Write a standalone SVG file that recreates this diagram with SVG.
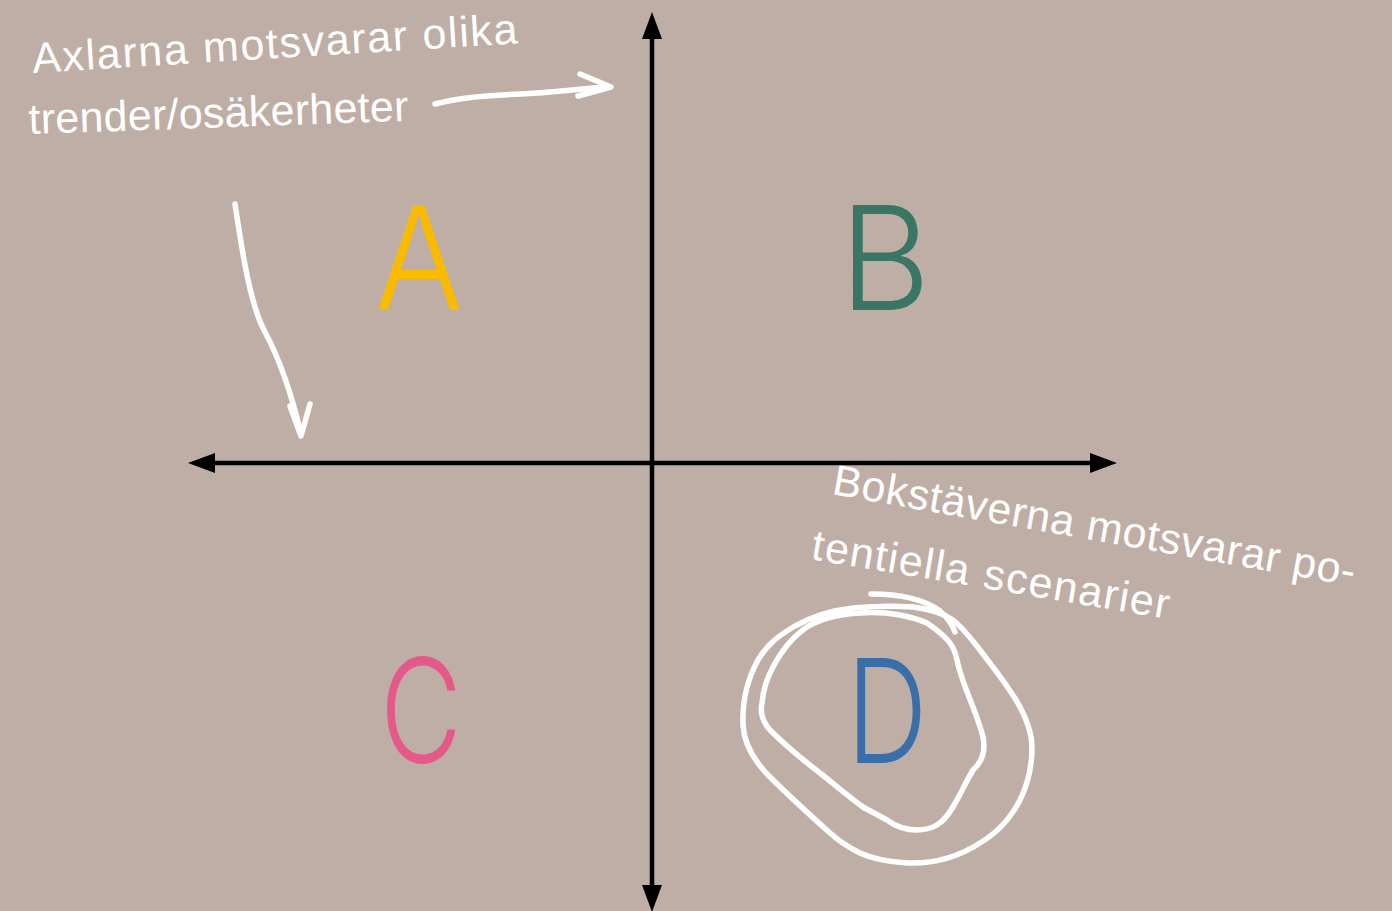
<svg xmlns="http://www.w3.org/2000/svg" width="1392" height="911" viewBox="0 0 1392 911">
<style>
.bg{fill:#bfaea6}
.axis{stroke:#000;stroke-width:4.5;fill:none}
.hand{fill:#fff;font-family:"Liberation Sans",Arial,sans-serif;font-size:43px}
.pen{stroke:#fff;stroke-width:5.5;fill:none;stroke-linecap:round;stroke-linejoin:round}
.big{font-family:Inter,Roboto,"Liberation Sans",sans-serif;font-weight:300;font-size:145px;text-anchor:middle}
</style>
<defs>
<marker id="ah" viewBox="0 0 27 20" refX="0" refY="10" markerWidth="27" markerHeight="20" markerUnits="userSpaceOnUse" orient="auto-start-reverse">
<path d="M0,0 L27,10 L0,20 z" fill="#000"/>
</marker>
</defs>
<rect class="bg" x="0" y="0" width="1392" height="911"/>
<g id="connectors">
<line class="axis" x1="652" y1="885" x2="652" y2="39" marker-start="url(#ah)" marker-end="url(#ah)"/>
<line class="axis" x1="215" y1="463" x2="1090" y2="463" marker-start="url(#ah)" marker-end="url(#ah)"/>
</g>
<g id="node-A"><text class="big" x="419" y="310" fill="#f9bb00" textLength="89" lengthAdjust="spacingAndGlyphs">A</text></g>
<g id="node-B"><text class="big" x="885" y="310" fill="#3a7664" textLength="91" lengthAdjust="spacingAndGlyphs">B</text></g>
<g id="node-C"><text class="big" x="421" y="763" fill="#e4588a" textLength="82" lengthAdjust="spacingAndGlyphs">C</text></g>
<g id="node-D"><text class="big" x="887" y="763" fill="#3a6ea8" textLength="81" lengthAdjust="spacingAndGlyphs">D</text></g>
<g id="note-axes">
<text class="hand" x="33" y="73" transform="rotate(-3.5 33 73)" textLength="486" lengthAdjust="spacing">Axlarna motsvarar olika</text>
<text class="hand" x="29" y="134" transform="rotate(-2 29 134)" textLength="380" lengthAdjust="spacing">trender/osäkerheter</text>
<path class="pen" d="M435,104 C460,97 490,95 520,94 C550,93 575,89 609,87"/>
<polyline class="pen" points="580,74 611,87 578,96"/>
<path class="pen" d="M235,204 C242,250 250,305 265,332 C280,360 293,400 301,434"/>
<polyline class="pen" points="290,406 301,436 310,404"/>
</g>
<g id="note-letters">
<text class="hand" x="831" y="494" transform="rotate(10 831 494)" textLength="530" lengthAdjust="spacing">Bokstäverna motsvarar po-</text>
<text class="hand" x="810" y="559" transform="rotate(9.5 810 559)" textLength="362" lengthAdjust="spacing">tentiella scenarier</text>
<path class="pen" d="M871,594 C900,594 925,600 940,611 C947,617 952,624 955,632"/>
<path class="pen" d="M913,607 C930,609 943,613 953,620 C965,630 972,640 980,650 C995,670 1010,688 1020,707 C1028,722 1032,735 1032,747 C1032,765 1028,784 1020,800 C1010,820 997,833 980,843 C960,856 935,864 907,863 C890,862 873,859 860,853 C848,847 840,842 830,833 C810,815 790,797 770,777 C755,762 744,745 743,725 C742,700 747,680 758,660 C768,643 780,635 795,626 C815,615 835,610 853,608 C875,606 895,606 913,607"/>
<path class="pen" d="M773,667 C782,650 792,637 807,627 C822,618 840,614 860,613 C875,612 888,613 900,615 C910,617 918,619 927,623 C937,630 945,636 950,643 C955,650 956,655 957,660 C962,685 977,712 983,737 C986,752 982,762 973,770 C966,782 960,795 953,807 C947,817 942,822 937,825 C930,829 924,830 917,830 C905,830 895,826 887,820 C878,815 870,811 863,807 C848,796 834,784 820,773 C803,760 785,745 770,730 C763,722 760,712 762,703 C763,690 767,678 773,667"/>
</g>
</svg>
